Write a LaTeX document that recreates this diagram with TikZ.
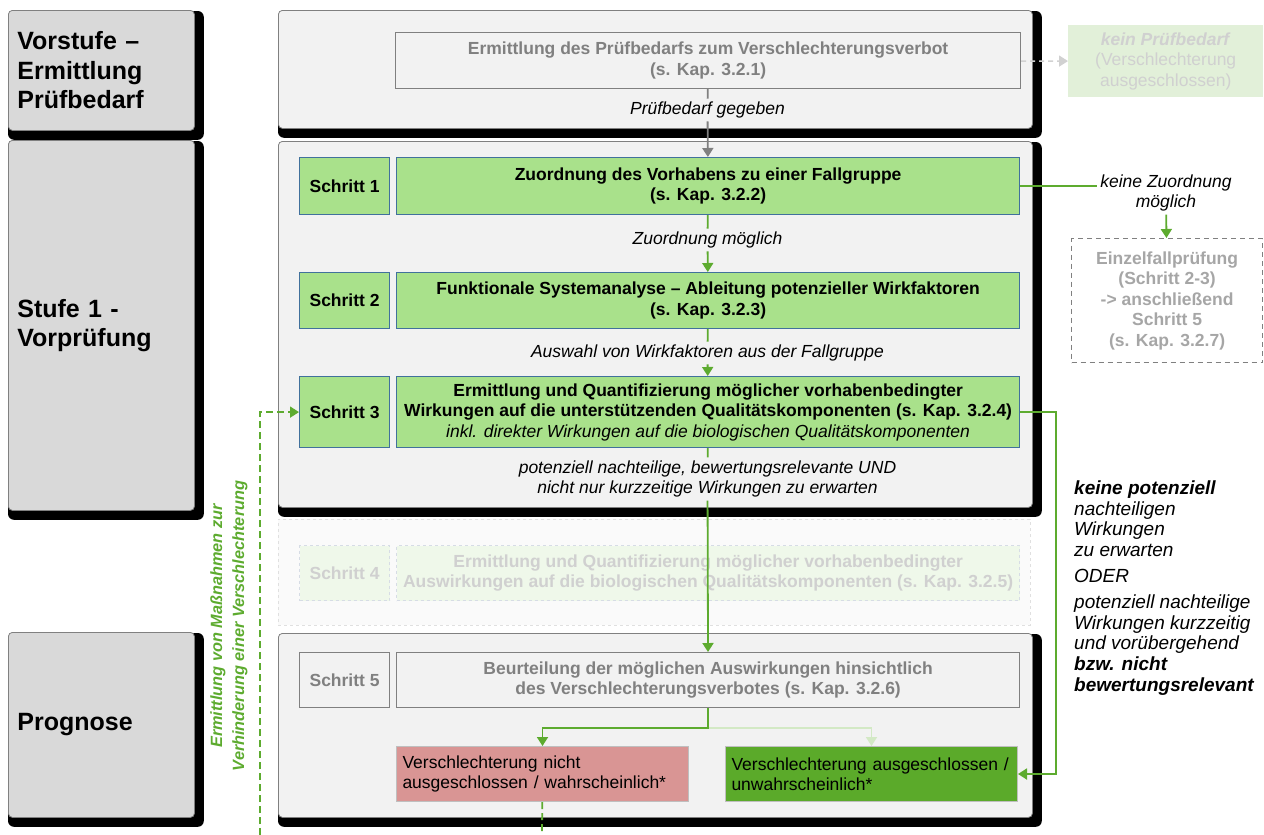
\documentclass[tikz,border=0pt]{standalone}
\usepackage{fontspec}
\setmainfont{Liberation Sans}
\usetikzlibrary{arrows.meta,positioning,backgrounds}
\definecolor{stagegray}{HTML}{D9D9D9}
\definecolor{panelgray}{HTML}{F2F2F2}
\definecolor{boxgreen}{HTML}{A9E18B}
\definecolor{darkgreen}{HTML}{5BAA2A}
\definecolor{linegreen}{HTML}{5DAB2F}
\definecolor{fadegreen}{HTML}{D3E9C5}
\definecolor{boxred}{HTML}{D99594}
\definecolor{boxblue}{HTML}{41719C}
\definecolor{paletext}{HTML}{D0D0D0}
\definecolor{palegreen}{HTML}{EFF8EA}
\definecolor{paleborder}{HTML}{D6DCE5}
\definecolor{keingreen}{HTML}{E2F0D9}
\newcommand\grundschrift{\fontsize{17.5}{20.5}\selectfont}
\tikzset{stage node/.style={rectangle,rounded corners=4pt,fill=stagegray,draw=gray,line width=0.8pt,anchor=north west,
                            inner xsep=9pt,minimum width=186pt,text width=168pt,align=left,font=\fontsize{25}{29.5}\selectfont\bfseries},
         panel node/.style={rectangle,rounded corners=4pt,fill=panelgray,draw=gray,line width=0.8pt,anchor=north west},
         faint panel/.style={rectangle,fill=black!2,draw=black!12,dashed,line width=0.8pt,anchor=north west},
         step node/.style={rectangle,fill=boxgreen,draw=boxblue,line width=1.2pt,anchor=north west,minimum width=90pt,
                           align=center,font=\grundschrift\bfseries},
         task node/.style={step node,minimum width=623pt},
         gray box/.style={step node,fill=panelgray,draw=gray,text=gray},
         faint box/.style={step node,fill=palegreen,draw=paleborder,dashed,text=paletext},
         result node/.style={rectangle,draw=black!25,line width=1pt,anchor=north west,minimum width=292pt,minimum height=55pt,
                             inner xsep=6pt,text width=280pt,align=left,font=\grundschrift},
         edge label/.style={rectangle,inner sep=3pt,align=center,font=\grundschrift\itshape},
         gray edge/.style={gray,line width=1.8pt},
         green edge/.style={linegreen,line width=1.8pt},
         fade edge/.style={black!18,line width=1.5pt,dash pattern=on 5pt off 4pt},
         loop edge/.style={linegreen,line width=1.8pt,dash pattern=on 7pt off 4pt},
}

\begin{document}
\begin{tikzpicture}[x=1pt,y=-1pt,>={Triangle[width=11pt,length=9pt]}]
\useasboundingbox (0,0) rectangle (1264,835);
% stages on the left
\node[stage node,minimum height=120pt] (vorstufe) at (8,10) {Vorstufe –\\Ermittlung\\Prüfbedarf};
\node[stage node,minimum height=370pt] (stufe) at (8,140) {Stufe 1 -\\Vorprüfung};
\node[stage node,minimum height=185pt] (prognose) at (8,632) {Prognose};

% panels
\node[panel node,minimum width=754pt,minimum height=118pt] (pvor) at (278,10) {};
\node[panel node,minimum width=754pt,minimum height=366pt] (pstufe) at (278,141) {};
\node[faint panel,minimum width=752pt,minimum height=106pt] (pvier) at (278,519) {};
\node[panel node,minimum width=754pt,minimum height=184pt] (pprog) at (278,633) {};

\begin{pgfonlayer}{background}
\foreach \p in {vorstufe,stufe,prognose,pvor,pstufe,pprog}
  \fill[black,rounded corners=6pt] ([yshift=-1pt]\p.north west) rectangle ([xshift=9pt,yshift=-9pt]\p.south east);
\end{pgfonlayer}

% steps
\node[gray box,minimum width=625pt,minimum height=56pt] (b0) at (395,32) {Ermittlung des Prüfbedarfs zum Verschlechterungsverbot\\(s. Kap. 3.2.1)};
\node[step node,minimum height=57pt] (s1) at (299,157) {Schritt 1};
\node[task node,minimum height=57pt] (b1) at (396,157) {Zuordnung des Vorhabens zu einer Fallgruppe\\(s. Kap. 3.2.2)};
\node[step node,minimum height=56pt] (s2) at (299,272) {Schritt 2};
\node[task node,minimum height=56pt] (b2) at (396,272) {Funktionale Systemanalyse – Ableitung potenzieller Wirkfaktoren\\(s. Kap. 3.2.3)};
\node[step node,minimum height=71pt] (s3) at (299,376) {Schritt 3};
\node[task node,minimum height=71pt] (b3) at (396,376) {Ermittlung und Quantifizierung möglicher vorhabenbedingter\\Wirkungen auf die unterstützenden Qualitätskomponenten (s. Kap. 3.2.4)\\{\mdseries\itshape inkl. direkter Wirkungen auf die biologischen Qualitätskomponenten}};
\node[faint box,minimum height=55pt] (s4) at (299,545) {Schritt 4};
\node[faint box,minimum width=623pt,minimum height=55pt] (b4) at (396,545) {Ermittlung und Quantifizierung möglicher vorhabenbedingter\\Auswirkungen auf die biologischen Qualitätskomponenten (s. Kap. 3.2.5)};
\node[gray box,minimum height=55pt] (s5) at (299,652) {Schritt 5};
\node[gray box,minimum width=623pt,minimum height=55pt] (b5) at (396,652) {Beurteilung der möglichen Auswirkungen hinsichtlich\\des Verschlechterungsverbotes (s. Kap. 3.2.6)};
\node[result node,fill=boxred] (rot) at (396,746) {Verschlechterung nicht\\ausgeschlossen / wahrscheinlich*};
\node[result node,fill=darkgreen] (gruen) at (725,746) {Verschlechterung ausgeschlossen /\\unwahrscheinlich*};

% outside the panels
\node[rectangle,fill=keingreen,text=paletext,anchor=north west,minimum width=195pt,minimum height=72pt,align=center,font=\grundschrift] (kein) at (1068,25) {\textbf{\textit{kein Prüfbedarf}}\\(Verschlechterung\\ausgeschlossen)};
\node[rectangle,fill=white,draw=gray,line width=1.2pt,dash pattern=on 5pt off 4pt,text=black!35,anchor=north west,minimum width=191pt,minimum height=124pt,
      align=center,font=\grundschrift\bfseries] (einzel) at (1071,238) {Einzelfallprüfung\\(Schritt 2-3)\\-> anschließend\\Schritt 5\\(s. Kap. 3.2.7)};

% labels
\node[edge label] (l0) at (707.5,110) {Prüfbedarf gegeben};
\node[edge label] (l1) at (707.5,240) {Zuordnung möglich};
\node[edge label] (l2) at (707.5,353) {Auswahl von Wirkfaktoren aus der Fallgruppe};
\node[edge label] (l3) at (707.5,479) {potenziell nachteilige, bewertungsrelevante UND\\nicht nur kurzzeitige Wirkungen zu erwarten};
\node[edge label] (kzu) at (1166,193) {keine Zuordnung\\möglich};
\node[edge label,anchor=west,align=left,font=\fontsize{19}{20.8}\selectfont\itshape] (kwirk) at (1071,588)
  {\textbf{keine potenziell}\\nachteiligen\\Wirkungen\\zu erwarten\\[5pt]ODER\\[5pt]potenziell nachteilige\\Wirkungen kurzzeitig\\und vorübergehend\\\textbf{bzw. nicht}\\\textbf{bewertungsrelevant}};
\node[rotate=90,align=center,text=linegreen,font=\fontsize{16.3}{22}\selectfont\bfseries\itshape] (massn) at (229,626) {Ermittlung von Maßnahmen zur\\Verhinderung einer Verschlechterung};

% connectors
\draw[gray edge] (b0) -- (l0);
\draw[gray edge,->] (l0) -- (b1);
\draw[fade edge,->] (b0) -- (kein);
\draw[green edge] (b1) -- (l1);
\draw[green edge,->] (l1) -- (b2);
\draw[green edge] (b1.east) -- (b1.east -| kzu.west);
\draw[green edge,->] (kzu) -- (einzel);
\draw[green edge] (b2) -- (l2);
\draw[green edge,->] (l2) -- (b3);
\draw[green edge] (b3) -- (l3);
\draw[green edge,->] (l3) -- (b5);
\draw[green edge,->] (b3.east) -- ++(36,0) |- (gruen.east);
\coordinate (gabel) at ([yshift=-20pt]b5.south);
\draw[fadegreen,line width=1.8pt,->] (gabel) -| (gruen.north);
\draw[green edge,->] (b5.south) -- (gabel) -| (rot.north);
\coordinate (randmitte) at (542,835);
\coordinate (randlinks) at (260,835);
\draw[loop edge] (rot) -- (randmitte);
\draw[loop edge,->] (randlinks) |- (s3.west);
\end{tikzpicture}
\end{document}
